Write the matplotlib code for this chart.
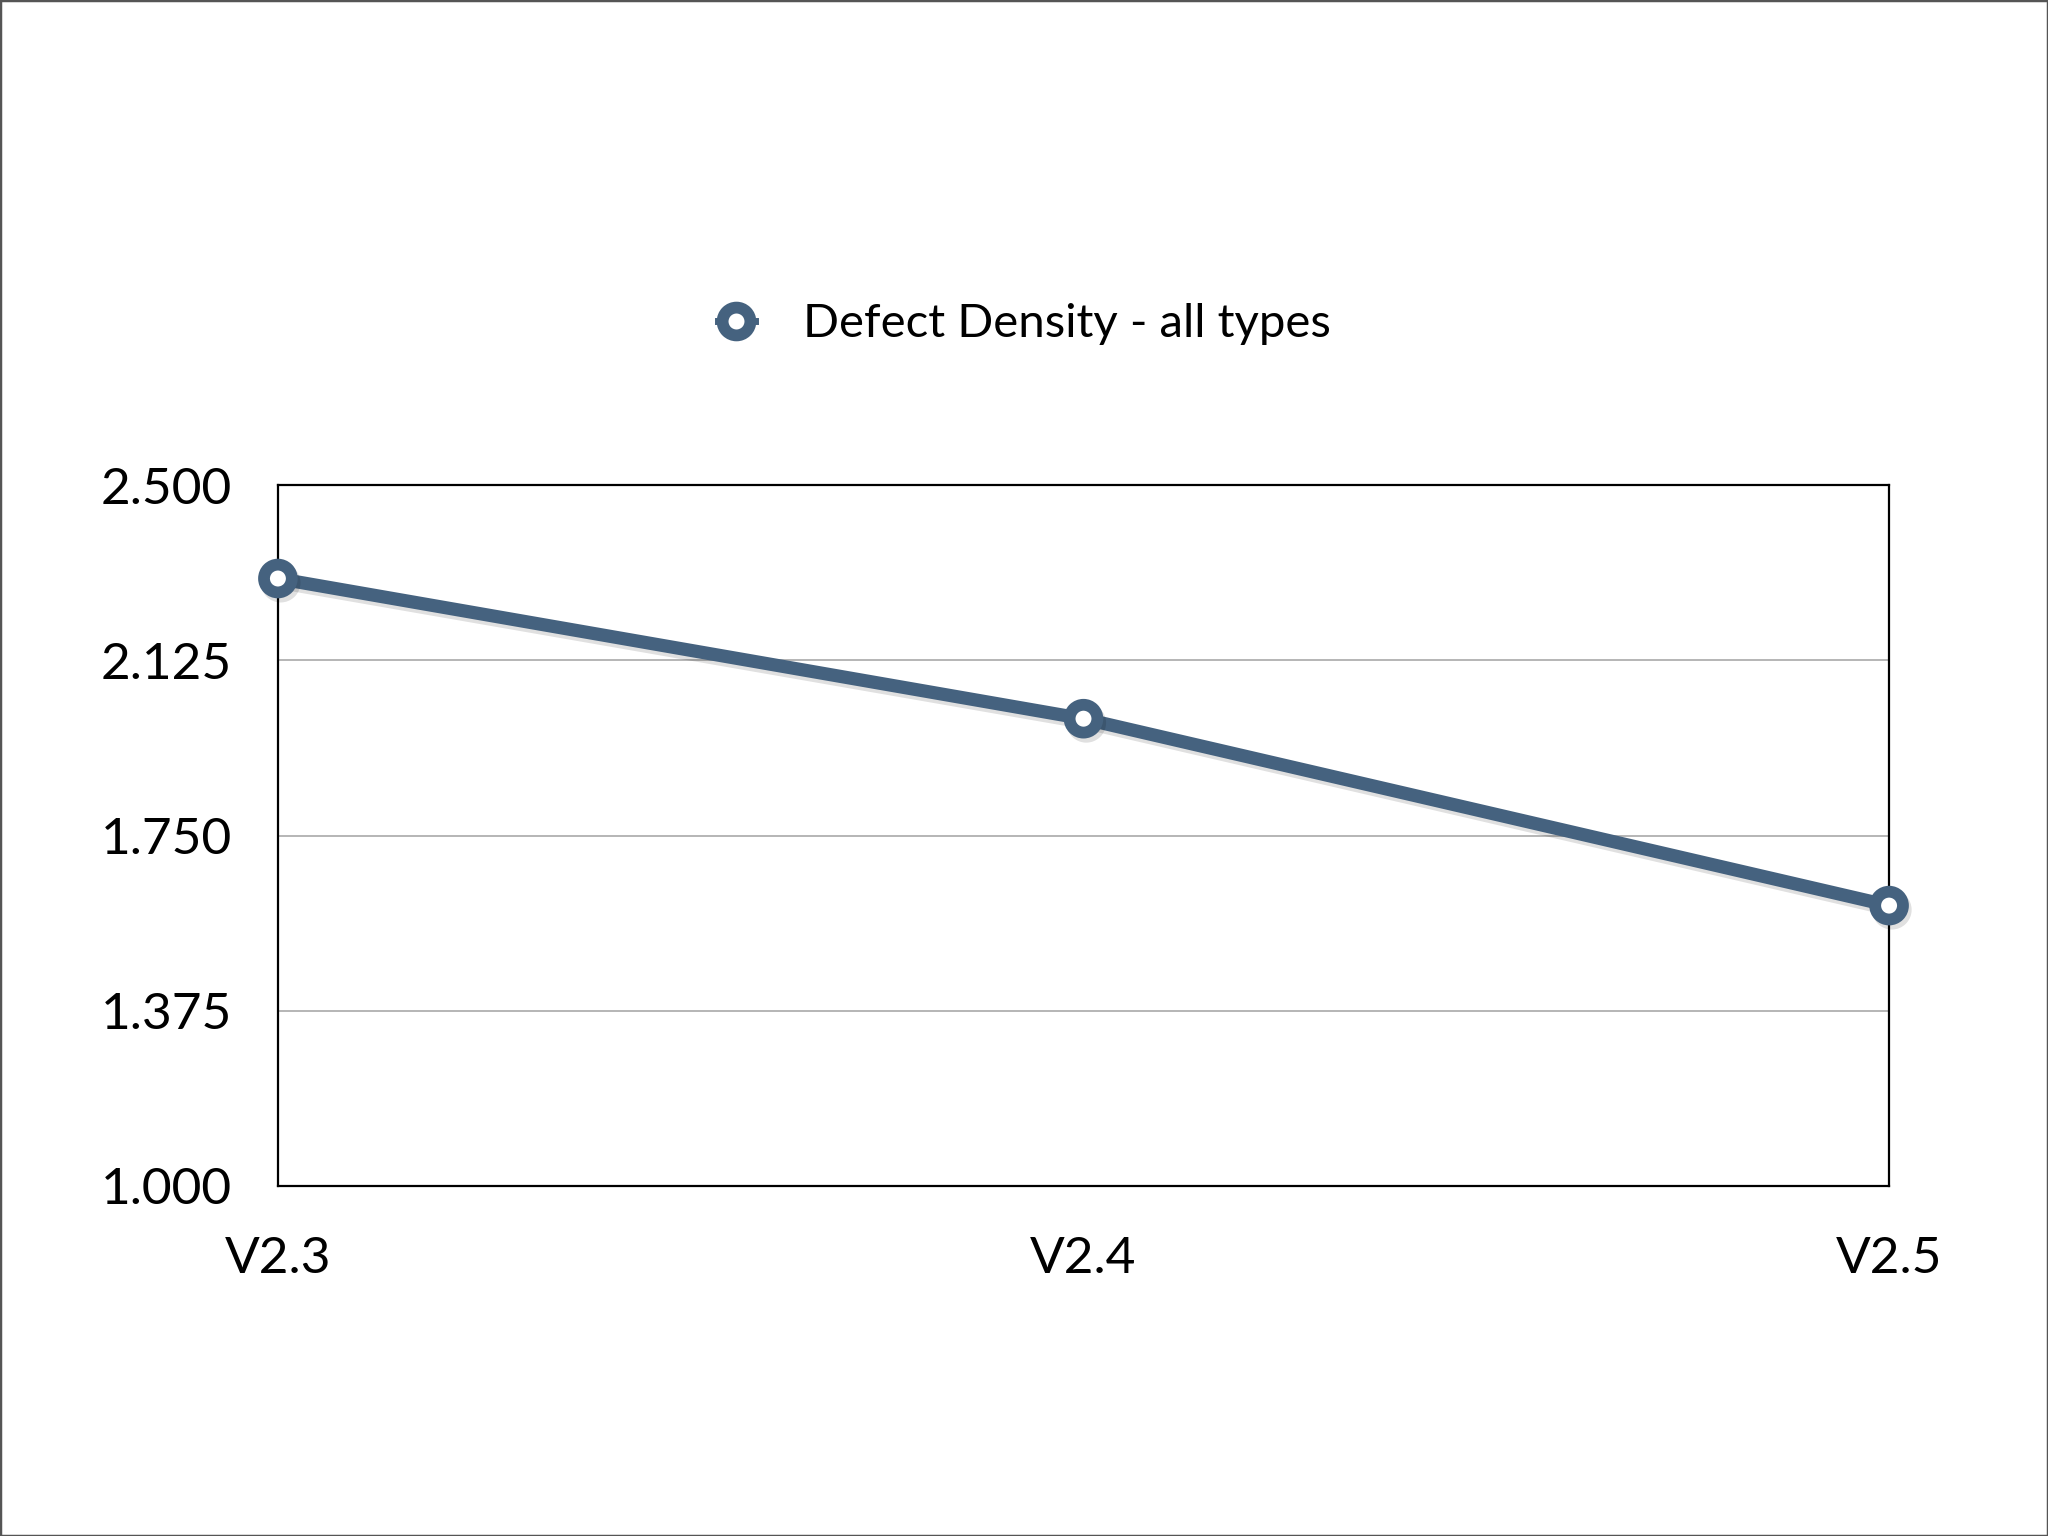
import matplotlib
matplotlib.use("Agg")
import matplotlib.pyplot as plt
import matplotlib.patheffects as pe
from matplotlib.patches import Rectangle

versions = ["V2.3", "V2.4", "V2.5"]
defect_density = [2.30, 2.00, 1.60]
y_ticks = [1.000, 1.375, 1.750, 2.125, 2.500]
y_tick_labels = ["1.000", "1.375", "1.750", "2.125", "2.500"]
series_name = "Defect Density - all types"

plt.rcParams['font.family'] = ['Lato', 'DejaVu Sans']

fig = plt.figure(figsize=(20.48, 15.36), dpi=100)
fig.patch.set_facecolor('white')
ax = fig.add_axes([0.1357, 0.2279, 0.9224 - 0.1357, 0.6842 - 0.2279])

color = '#45627f'
x = list(range(len(versions)))
line, = ax.plot(x, defect_density, color=color, lw=9.5, marker='o', ms=20,
                mew=8.5, mfc='white', mec=color, clip_on=False, zorder=5,
                label=series_name,
                path_effects=[pe.SimpleLineShadow(offset=(2, -3), shadow_color='black', alpha=0.12),
                              pe.Normal()])

ax.set_xlim(0, 2)
ax.set_ylim(1.0, 2.5)
ax.set_yticks(y_ticks)
ax.set_yticklabels(y_tick_labels)
ax.set_xticks(x)
ax.set_xticklabels(versions)
ax.tick_params(axis='both', length=0, labelsize=37, colors='black')
ax.tick_params(axis='y', pad=33)
ax.tick_params(axis='x', pad=36)
ax.grid(axis='y', color='#b0b0b0', lw=1.3)
ax.set_axisbelow(True)
for s in ax.spines.values():
    s.set_color('black')
    s.set_linewidth(1.6)

leg = fig.legend(handles=[line], loc='center', bbox_to_anchor=(0.5, 0.789),
                 frameon=False, fontsize=34, handlelength=0.8, handletextpad=1.0,
                 markerscale=1.0)
for h in leg.legend_handles:
    h.set_linewidth(5)
    h.set_path_effects([])

fig.add_artist(Rectangle((0, 0), 1, 1, transform=fig.transFigure, fill=False,
                         edgecolor='#555555', lw=2.5))

fig.savefig('out.png', dpi=100)
